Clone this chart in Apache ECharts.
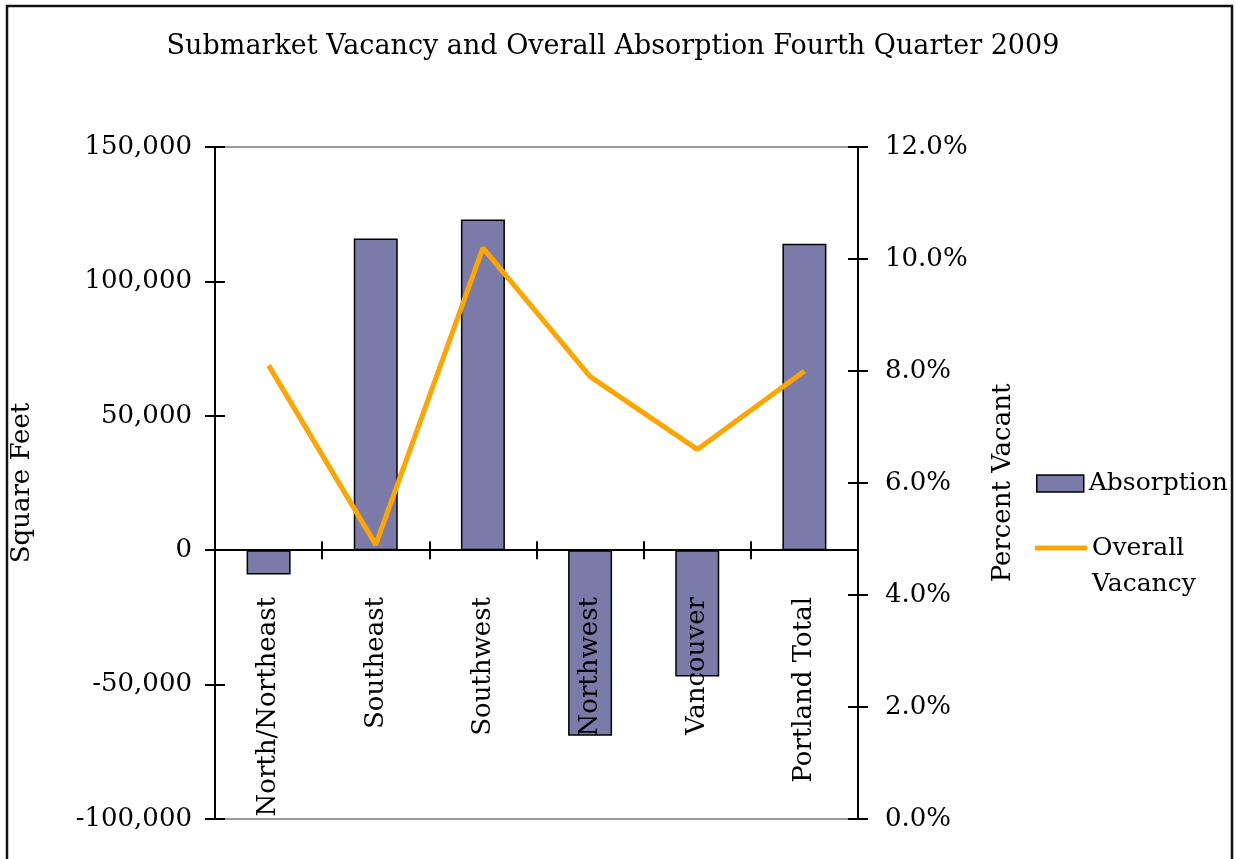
<!DOCTYPE html>
<html>
<head>
<meta charset="utf-8">
<script src="https://cdn.jsdelivr.net/npm/echarts@6/dist/echarts.min.js"></script>
<style>
  html, body { margin: 0; padding: 0; background: #fff; }
  #chart { width: 1236px; height: 859px; }
</style>
</head>
<body>
<div id="chart"></div>
<script>
var categories = ['North/Northeast', 'Southeast', 'Southwest', 'Northwest', 'Vancouver', 'Portland Total'];
var absorption = [-9000, 116000, 123000, -69000, -47000, 114000];
var vacancy = [8.1, 4.9, 10.2, 7.9, 6.6, 8.0];

var leftTicks = { min: -100000, max: 150000, interval: 50000 };
var rightTicks = { min: 0, max: 12, interval: 2 };

var FONT = 'DejaVu Serif';

function commas(v) {
  return v.toString().replace(/\B(?=(\d{3})+(?!\d))/g, ',');
}

var myChart = echarts.init(document.getElementById('chart'));

myChart.setOption({
  backgroundColor: '#fff',
  animation: false,
  title: {
    text: 'Submarket Vacancy and Overall Absorption Fourth Quarter 2009',
    left: 608,
    textAlign: 'center',
    top: 28,
    textStyle: { fontFamily: FONT, fontSize: 27, fontWeight: 'normal', color: '#000' }
  },
  grid: {
    left: 215,
    right: 378,
    top: 147,
    bottom: 40,
    outerBoundsMode: 'none',
    containLabel: false,
    show: true,
    borderColor: '#999',
    borderWidth: 2
  },
  legend: [
    {
      data: [{ name: 'Absorption', icon: 'rect' }],
      left: 1031,
      top: 466,
      itemWidth: 47,
      itemHeight: 17,
      itemStyle: { borderColor: '#000', borderWidth: 1.5 },
      textStyle: { fontFamily: FONT, fontSize: 25, color: '#000' }
    },
    {
      data: [{ name: 'Overall Vacancy', icon: 'rect' }],
      left: 1030,
      top: 489,
      itemWidth: 52,
      itemHeight: 5,
      itemStyle: { color: '#FFA500', borderWidth: 0 },
      formatter: function () { return ' \nOverall\nVacancy'; },
      textStyle: { fontFamily: FONT, fontSize: 25, lineHeight: 36, color: '#000' }
    }
  ],
  xAxis: [
    {
      // zero line with the outside half of the ticks
      type: 'category',
      data: categories,
      z: 5,
      axisLine: { onZero: true, onZeroAxisIndex: 0, lineStyle: { color: '#000', width: 2 } },
      axisTick: { show: true, interval: 0, length: 9, lineStyle: { color: '#000', width: 2 } },
      axisLabel: { show: false },
      splitLine: { show: false }
    },
    {
      // inside half of the ticks
      type: 'category',
      data: categories,
      position: 'bottom',
      z: 5,
      axisLine: { show: false, onZero: true, onZeroAxisIndex: 0 },
      axisTick: { show: true, interval: 0, inside: true, length: 9, lineStyle: { color: '#000', width: 2 } },
      axisLabel: { show: false },
      splitLine: { show: false }
    },
    {
      // category labels, hanging just under the zero line
      type: 'category',
      data: categories,
      position: 'bottom',
      z: 10,
      axisLine: { show: false, onZero: false },
      axisTick: { show: false },
      axisLabel: { show: true, interval: 0, inside: true, margin: 222, rotate: 90, align: 'right',
        fontFamily: FONT, fontSize: 26, color: '#000' },
      splitLine: { show: false }
    }
  ],
  yAxis: [
    {
      type: 'value',
      position: 'left',
      min: leftTicks.min,
      max: leftTicks.max,
      interval: leftTicks.interval,
      name: 'Square Feet',
      nameLocation: 'middle',
      nameRotate: 90,
      nameGap: 180,
      nameTextStyle: { fontFamily: FONT, fontSize: 26, color: '#000' },
      axisLine: { show: true, lineStyle: { color: '#000', width: 2 } },
      axisTick: { show: true, length: 10, lineStyle: { color: '#000', width: 2 } },
      axisLabel: { margin: 23, fontFamily: FONT, fontSize: 26, color: '#000', formatter: commas },
      splitLine: { show: false }
    },
    {
      type: 'value',
      position: 'right',
      min: rightTicks.min,
      max: rightTicks.max,
      interval: rightTicks.interval,
      name: 'Percent Vacant',
      nameLocation: 'middle',
      nameRotate: 90,
      nameGap: 132,
      nameTextStyle: { fontFamily: FONT, fontSize: 26, color: '#000' },
      axisLine: { show: true, lineStyle: { color: '#000', width: 2 } },
      axisTick: { show: true, length: 10, lineStyle: { color: '#000', width: 2 } },
      axisLabel: { margin: 27, fontFamily: FONT, fontSize: 26, color: '#000',
        formatter: function (v) { return v.toFixed(1) + '%'; } },
      splitLine: { show: false }
    },
    {
      type: 'value',
      position: 'left',
      min: leftTicks.min,
      max: leftTicks.max,
      interval: leftTicks.interval,
      axisLine: { show: false },
      axisTick: { show: true, inside: true, length: 10, lineStyle: { color: '#000', width: 2 } },
      axisLabel: { show: false },
      splitLine: { show: false }
    },
    {
      type: 'value',
      position: 'right',
      min: rightTicks.min,
      max: rightTicks.max,
      interval: rightTicks.interval,
      axisLine: { show: false },
      axisTick: { show: true, inside: true, length: 10, lineStyle: { color: '#000', width: 2 } },
      axisLabel: { show: false },
      splitLine: { show: false }
    }
  ],
  series: [
    {
      name: 'Absorption',
      type: 'bar',
      data: absorption,
      barWidth: 44,
      itemStyle: { color: '#7A7BA8', borderColor: '#000', borderWidth: 1.5 }
    },
    {
      name: 'Overall Vacancy',
      type: 'line',
      yAxisIndex: 1,
      data: vacancy,
      symbol: 'none',
      lineStyle: { color: '#FFA500', width: 5 },
      itemStyle: { color: '#FFA500' }
    }
  ],
  graphic: [
    {
      type: 'rect',
      silent: true,
      shape: { x: 7, y: 6, width: 1225, height: 870 },
      style: { fill: 'none', stroke: '#111', lineWidth: 2.5 }
    }
  ]
});
</script>
</body>
</html>
